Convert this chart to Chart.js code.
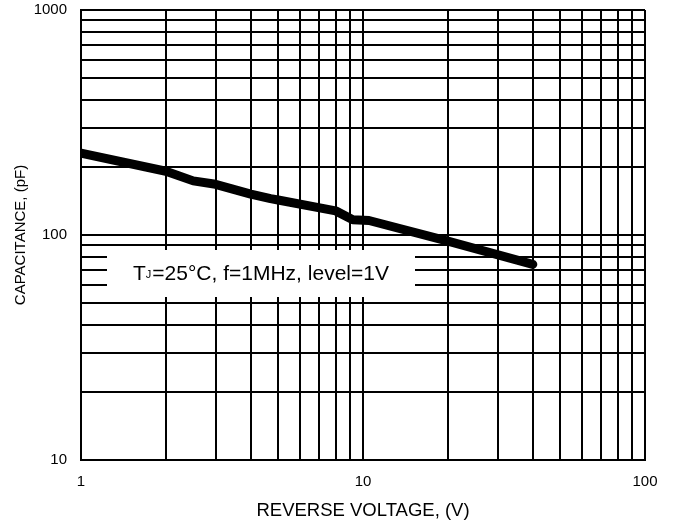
<!DOCTYPE html>
<html>
<head>
<meta charset="utf-8">
<script src="https://cdn.jsdelivr.net/npm/chart.js@4"></script>
<style>
    body { margin: 0; background: #fff; }
    canvas { display: block; }
</style>
</head>
<body>
<canvas id="capacitance_chart" width="677" height="526"></canvas>
<script>
// reverse voltage (V) vs junction capacitance (pF)
const voltage = [1, 2, 2.5, 3, 4, 4.7, 5, 8, 9.2, 10.5, 20, 40];
const capacitance = [231, 192, 174, 168, 152, 145, 143, 128, 117, 116, 94, 74];

// grid lines at every 1..9 x decade, labels only on decades
const xTicks = [1, 2, 3, 4, 5, 6, 7, 8, 9, 10, 20, 30, 40, 50, 60, 70, 80, 90, 100];
const yTicks = [10, 20, 30, 40, 50, 60, 70, 80, 90, 100, 200, 300, 400, 500, 600, 700, 800, 900, 1000];
const xLabels = [1, 10, 100];
const yLabels = [10, 100, 1000];

const conditionText = ["T", "J", "=25°C, f=1MHz, level=1V"];

const fontFamily = '"Liberation Sans", Arial, sans-serif';

let conditionBox = {
    id: 'conditionBox',
    beforeDatasetsDraw(chart) {
        const ctx = chart.ctx;
        const area = chart.chartArea;
        let left = area.left + 26;
        let top = area.top + 240;
        ctx.save();
        ctx.fillStyle = '#fff';
        ctx.fillRect(left, top, 308, 47);
        ctx.fillStyle = '#000';
        ctx.textBaseline = 'alphabetic';
        ctx.textAlign = 'left';
        let x = left + 26;
        let baseline = top + 30;
        ctx.font = `21px ${fontFamily}`;
        ctx.fillText(conditionText[0], x, baseline);
        x += ctx.measureText(conditionText[0]).width;
        ctx.font = `11px ${fontFamily}`;
        ctx.fillText(conditionText[1], x, baseline - 2);
        x += ctx.measureText(conditionText[1]).width + 1;
        ctx.font = `21px ${fontFamily}`;
        ctx.fillText(conditionText[2], x, baseline);
        ctx.restore();
    }
};

function setTicks(values) {
    return (scale) => {
        scale.ticks = values.map((v) => ({ value: v }));
    };
}

let canvas = document.querySelector('#capacitance_chart');
new Chart(canvas, {
    type: 'line',
    data: {
        datasets: [{
            label: 'Capacitance',
            data: voltage.map((v, index) => ({ x: v, y: capacitance[index] })),
            borderColor: '#000',
            borderWidth: 9,
            borderCapStyle: 'round',
            borderJoinStyle: 'round',
            pointRadius: 0,
            tension: 0,
            fill: false,
            clip: 0
        }]
    },
    options: {
        responsive: false,
        animation: false,
        layout: {
            padding: { top: 10, right: 32, left: 0, bottom: 0 }
        },
        plugins: {
            legend: { display: false },
            tooltip: { enabled: false }
        },
        scales: {
            x: {
                type: 'logarithmic',
                min: 1,
                max: 100,
                afterBuildTicks: setTicks(xTicks),
                afterFit: (scale) => {
                    scale.height = 66;
                    scale.paddingLeft = 0;
                    scale.paddingRight = 0;
                },
                grid: { color: '#000', lineWidth: 2, drawTicks: false },
                border: { color: '#000', width: 2 },
                ticks: {
                    autoSkip: false,
                    maxRotation: 0,
                    padding: 13,
                    color: '#000',
                    font: { family: fontFamily, size: 15 },
                    callback: (value) => xLabels.includes(value) ? String(value) : ''
                },
                title: {
                    display: true,
                    text: 'REVERSE VOLTAGE, (V)',
                    color: '#000',
                    font: { family: fontFamily, size: 18.5 },
                    padding: { top: 0, bottom: 4 }
                }
            },
            y: {
                type: 'logarithmic',
                min: 10,
                max: 1000,
                afterBuildTicks: setTicks(yTicks),
                afterFit: (scale) => {
                    scale.width = 81;
                    scale.paddingTop = 0;
                    scale.paddingBottom = 0;
                },
                grid: { color: '#000', lineWidth: 2, drawTicks: false },
                border: { color: '#000', width: 2 },
                ticks: {
                    autoSkip: false,
                    padding: 14,
                    color: '#000',
                    font: { family: fontFamily, size: 15 },
                    callback: (value) => yLabels.includes(value) ? String(value) : ''
                },
                title: {
                    display: true,
                    text: 'CAPACITANCE, (pF)',
                    color: '#000',
                    font: { family: fontFamily, size: 15 },
                    padding: { top: 12, bottom: 0 }
                }
            }
        }
    },
    plugins: [conditionBox]
});
</script>
</body>
</html>
